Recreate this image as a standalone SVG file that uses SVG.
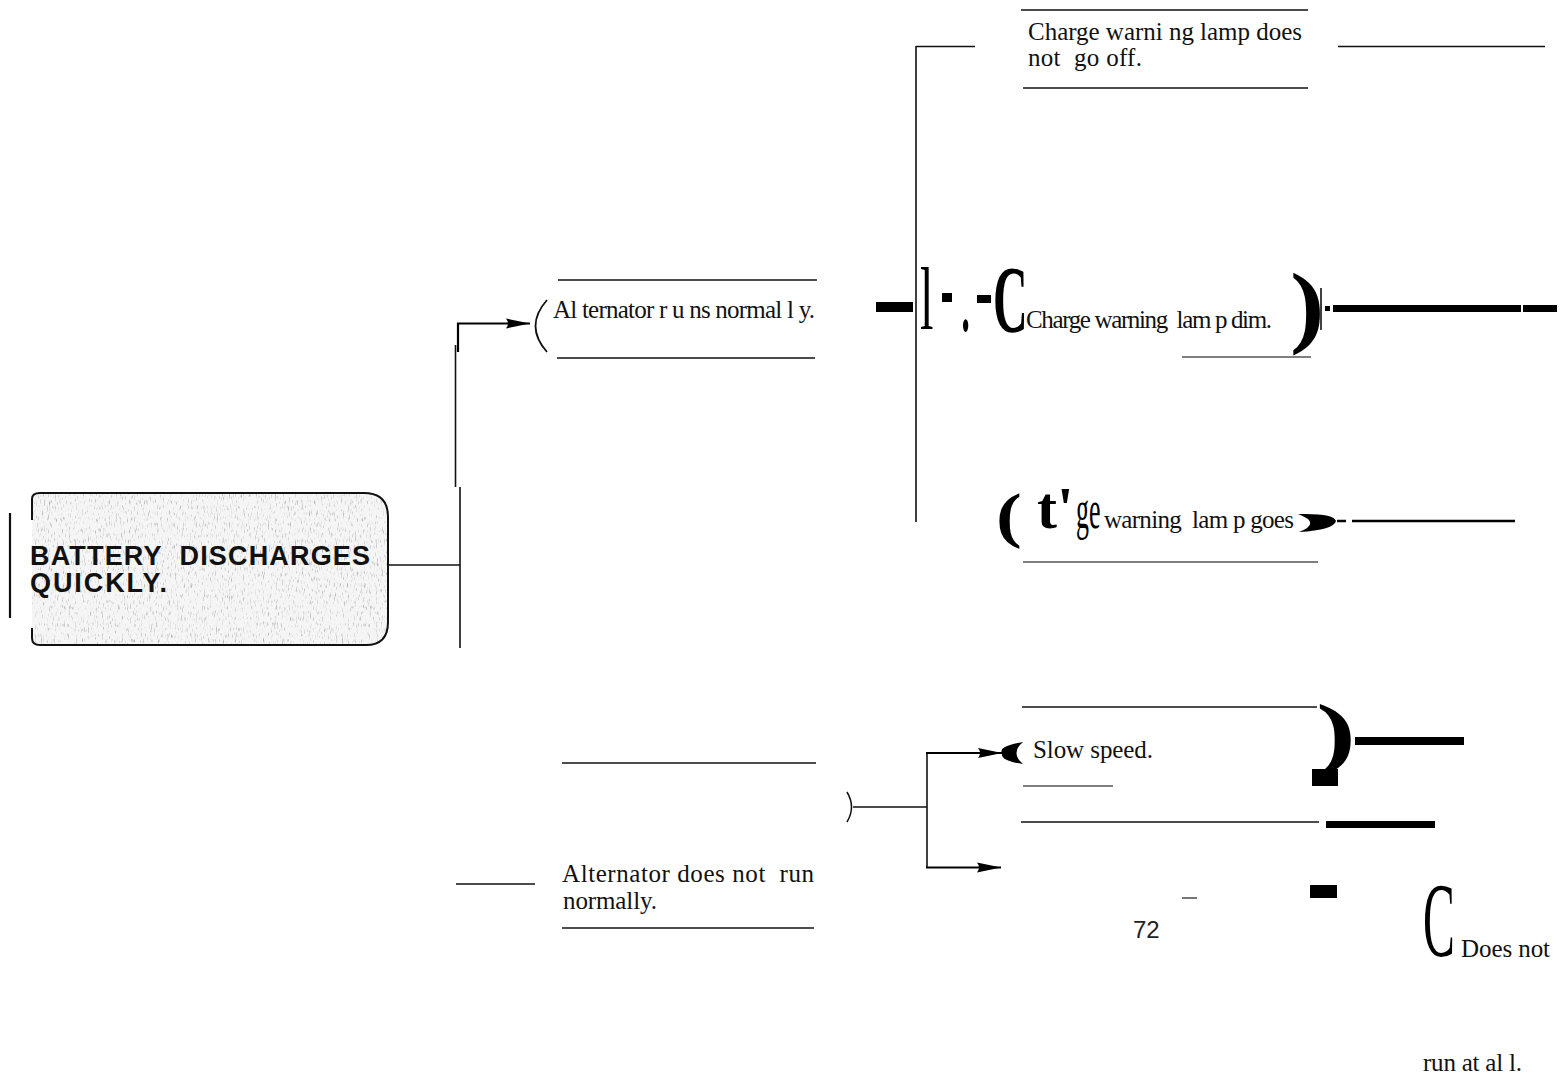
<svg xmlns="http://www.w3.org/2000/svg" width="1562" height="1078" viewBox="0 0 1562 1078">
<style>
.t{font-family:"Liberation Serif","Times New Roman",serif;font-size:25px;fill:#111;white-space:pre}
.g{font-family:"Liberation Serif","Times New Roman",serif;fill:#000}
.ln{stroke:#111;stroke-width:1.6;fill:none}
.gl{stroke:#555;stroke-width:1.6;fill:none}
.bx{fill:#000}
.hb{font-family:"Liberation Sans",Arial,sans-serif;font-weight:bold;font-size:27px;fill:#111;white-space:pre}
</style>
<defs>
<marker id="ah" markerUnits="userSpaceOnUse" markerWidth="26" markerHeight="14" refX="24" refY="7" orient="auto">
<path d="M0,2 L24,7 L0,12 Q4,7 0,2 Z" fill="#000"/>
</marker>
<filter id="tex" x="0" y="0" width="1" height="1">
<feTurbulence type="fractalNoise" baseFrequency="0.85 0.18" numOctaves="2" seed="7" result="noise"/>
<feColorMatrix in="noise" type="matrix" values="0 0 0 0 0.4 0 0 0 0 0.4 0 0 0 0 0.4 3.2 0 0 0 -1.8" result="spk"/>
<feComposite in="spk" in2="SourceGraphic" operator="in" result="clip"/>
<feMerge><feMergeNode in="SourceGraphic"/><feMergeNode in="clip"/></feMerge>
</filter>
</defs>

<g id="connectors">
<line class="ln" x1="388" y1="565" x2="460" y2="565"/>
<line class="ln" x1="460" y1="487" x2="460" y2="648"/>
<line class="ln" x1="455.5" y1="345" x2="455.5" y2="487"/>
<path d="M458,352 L458,323.5 L530,323.5" stroke="#000" stroke-width="2.2" fill="none" marker-end="url(#ah)"/>
<line class="ln" x1="916" y1="46" x2="916" y2="522"/>
<line class="ln" x1="916" y1="46.5" x2="975" y2="46.5"/>
<line class="ln" x1="1338" y1="46.5" x2="1545" y2="46.5"/>
<rect class="bx" x="876" y="302" width="37" height="10"/>
<rect class="bx" x="1333" y="305" width="188" height="7"/>
<rect class="bx" x="1523" y="305" width="34" height="7"/>
<line x1="1337" y1="521" x2="1346" y2="521" stroke="#000" stroke-width="2.5"/>
<line x1="1352" y1="521" x2="1515" y2="521" stroke="#000" stroke-width="2.5"/>
<line class="ln" x1="853" y1="807" x2="927" y2="807"/>
<line class="ln" x1="927" y1="753" x2="927" y2="868"/>
<line x1="926" y1="753" x2="1002" y2="753" stroke="#000" stroke-width="1.8" marker-end="url(#ah)"/>
<line x1="926" y1="867.5" x2="1001" y2="867.5" stroke="#000" stroke-width="1.8" marker-end="url(#ah)"/>
<rect class="bx" x="1355" y="737" width="109" height="8"/>
<rect class="bx" x="1326" y="821" width="109" height="7"/>
<rect class="bx" x="1312" y="769" width="26" height="17"/>
<rect class="bx" x="1310" y="885" width="27" height="13"/>
</g>

<g id="n-battery">
<line x1="10" y1="513" x2="10" y2="618" stroke="#111" stroke-width="2.2"/>
<path d="M32,499 Q32,493 40,493 L364,493 Q388,493 388,517 L388,622 Q388,645 366,645 L40,645 Q32,645 32,638 Z" fill="#f5f5f5" filter="url(#tex)"/>
<path d="M32,520 L32,499 Q32,493 40,493 L364,493 Q388,493 388,517 L388,622 Q388,645 366,645 L40,645 Q32,645 32,638 L32,628" fill="none" stroke="#111" stroke-width="2"/>
<text class="hb" x="30" y="565" textLength="340" lengthAdjust="spacing">BATTERY  DISCHARGES</text>
<text class="hb" x="30" y="592" textLength="137" lengthAdjust="spacing">QUICKLY.</text>
</g>

<g id="n-alt-normal">
<line class="ln" x1="558" y1="280" x2="817" y2="280"/>
<line class="ln" x1="557" y1="358" x2="815" y2="358"/>
<path d="M547,300 Q524,326 547,352" fill="none" stroke="#111" stroke-width="1.8"/>
<text class="t" x="553" y="318" font-size="22.8" textLength="262" lengthAdjust="spacing">Al ternator r u ns normal l y.</text>
</g>

<g id="n-lamp-not-off">
<line class="ln" x1="1021" y1="10" x2="1308" y2="10"/>
<line class="ln" x1="1023" y1="88" x2="1308" y2="88"/>
<text class="t" x="1028" y="40" textLength="274" lengthAdjust="spacing">Charge warni ng lamp does</text>
<text class="t" x="1028" y="66" textLength="114" lengthAdjust="spacing">not  go off.</text>
</g>

<g id="n-lamp-dim">
<text class="g" transform="translate(920,329) scale(0.55,1)" font-size="88">l</text>
<rect class="bx" x="942" y="293" width="10" height="9"/>
<text class="g" transform="translate(960,330) scale(0.75,1.8)" font-size="60">.</text>
<rect class="bx" x="977" y="295" width="14" height="8"/>
<text class="g" transform="translate(993,332) scale(0.5,1)" font-size="96" font-weight="bold">C</text>
<text class="t" x="1026" y="328" font-size="22" textLength="246" lengthAdjust="spacing">Charge warning  lam p dim.</text>
<line class="gl" x1="1182" y1="357" x2="1311" y2="357"/>
<text class="g" transform="translate(1290,336) scale(1.15,1)" font-size="90" font-weight="bold">)</text>
<line x1="1321" y1="288" x2="1321" y2="330" stroke="#111" stroke-width="1.6"/>
<rect class="bx" x="1325" y="306" width="5" height="5"/>
</g>

<g id="n-lamp-goes">
<text class="g" transform="translate(996,536) scale(1.25,1)" font-size="62" font-weight="bold">(</text>
<text class="g" x="1037" y="528" font-size="60" font-weight="bold">t'</text>
<text class="g" transform="translate(1076,528) scale(0.48,1)" font-size="54">ge</text>
<text class="t" x="1104" y="528" font-size="24" textLength="190" lengthAdjust="spacing">warning  lam p goes</text>
<path d="M1298,514 Q1334,513 1336,521 Q1334,530 1299,532 Q1322,523 1298,514 Z" fill="#000"/>
<line class="gl" x1="1023" y1="562" x2="1318" y2="562"/>
</g>

<g id="n-alt-abnormal">
<line class="ln" x1="562" y1="763" x2="816" y2="763"/>
<line class="ln" x1="562" y1="928" x2="814" y2="928"/>
<line class="ln" x1="456" y1="884" x2="535" y2="884"/>
<path d="M847,792 Q856,807 847,822" fill="none" stroke="#111" stroke-width="1.5"/>
<text class="t" x="562" y="882" font-size="26" textLength="252" lengthAdjust="spacing">Alternator does not  run</text>
<text class="t" x="563" y="909" textLength="94" lengthAdjust="spacing">normally.</text>
</g>

<g id="n-slow">
<line class="ln" x1="1022" y1="707" x2="1317" y2="707"/>
<line class="gl" x1="1023" y1="786" x2="1113" y2="786"/>
<line class="ln" x1="1021" y1="822" x2="1319" y2="822"/>
<path d="M1023,742 Q998,746 1002,753 Q1000,761 1023,764 Q1010,753 1023,742 Z" fill="#000"/>
<text class="t" x="1033" y="758" font-size="24.5" textLength="120" lengthAdjust="spacing">Slow speed.</text>
<text class="g" transform="translate(1316,760) scale(1.5,1)" font-size="80" font-weight="bold">)</text>
</g>

<g id="n-norun">
<text class="g" transform="translate(1423,956) scale(0.45,1)" font-size="106">C</text>
<text class="t" x="1461" y="957" textLength="89" lengthAdjust="spacing">Does not</text>
<text class="t" x="1423" y="1071" textLength="99" lengthAdjust="spacing">run at al l.</text>
</g>

<g id="page-number">
<text x="1133" y="938" font-family="'Liberation Sans',Arial,sans-serif" font-size="24" fill="#222">72</text>
<line class="gl" x1="1182" y1="898" x2="1197" y2="898"/>
</g>
</svg>
